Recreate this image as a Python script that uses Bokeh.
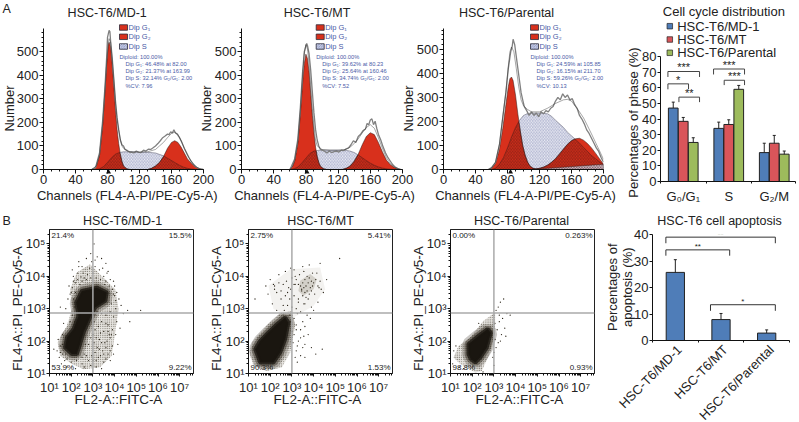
import math
import numpy as np
from bokeh.embed import file_html
from bokeh.layouts import column, row
from bokeh.models import (ColumnDataSource, FixedTicker, Label, Range1d, Span, TeeHead, Whisker)
from bokeh.plotting import figure
from bokeh.resources import INLINE

FONT = "Liberation Sans"
RED = "#d8301c"
BLUE_TEXT = "#4a5aa6"

# ------------- Panel A: histograms (channel, count) -------------
a1_g1_x = [62, 66, 70, 74, 77, 79, 81, 82, 84, 86, 88, 90, 92, 94, 96, 98, 100, 104, 108]
a1_g1_y = [0, 15, 60, 190, 340, 450, 530, 540, 520, 440, 350, 250, 170, 110, 65, 35, 15, 3, 0]
a1_g2_x = [130, 135, 140, 145, 150, 155, 160, 164, 168, 172, 176, 180, 185, 190, 195, 200]
a1_g2_y = [0, 5, 15, 30, 55, 90, 115, 122, 115, 95, 70, 45, 25, 10, 3, 0]
a1_s_x = [65, 70, 75, 80, 85, 90, 95, 100, 110, 120, 130, 140, 150, 155, 160, 165, 170, 175, 180, 185, 190]
a1_s_y = [0, 3, 12, 30, 50, 65, 72, 75, 75, 74, 73, 70, 58, 48, 38, 28, 18, 10, 5, 2, 0]
a1_raw_x = [60, 65, 70, 74, 77, 79, 80, 81, 82, 83, 84, 86, 88, 90, 92, 94, 96, 98, 100, 102, 105, 108, 110, 113, 116, 119, 122, 125, 128, 131, 134, 137, 140, 143, 146, 149, 152, 155, 157, 159, 161, 163, 165, 167, 170, 173, 176, 179, 182, 185, 188, 192, 196, 200]
a1_raw_y = [0, 8, 70, 210, 360, 480, 560, 575, 590, 585, 540, 470, 380, 290, 220, 170, 125, 105, 100, 85, 80, 72, 74, 70, 78, 73, 72, 82, 78, 86, 85, 92, 100, 110, 122, 135, 142, 150, 148, 160, 155, 168, 155, 150, 135, 115, 90, 70, 50, 33, 20, 8, 2, 0]
a1_fit_x = [60, 66, 70, 74, 77, 79, 81, 82, 84, 86, 88, 90, 92, 94, 96, 98, 100, 105, 110, 120, 130, 140, 145, 150, 155, 160, 164, 168, 172, 176, 180, 185, 190, 195, 200]
a1_fit_y = [0, 15, 62, 195, 345, 455, 540, 555, 535, 460, 375, 280, 210, 165, 130, 100, 90, 78, 75, 74, 75, 85, 100, 115, 135, 153, 158, 150, 122, 90, 60, 32, 13, 3, 0]

a2_g1_x = [60, 63, 66, 70, 73, 76, 78, 80, 82, 84, 86, 88, 90, 92, 94, 96, 98, 102, 106]
a2_g1_y = [0, 10, 35, 110, 230, 370, 450, 489, 470, 410, 320, 230, 155, 95, 55, 30, 14, 3, 0]
a2_g2_x = [125, 130, 135, 140, 145, 150, 155, 160, 165, 170, 175, 180, 185, 190, 195, 198]
a2_g2_y = [0, 5, 15, 35, 65, 105, 140, 156, 148, 115, 75, 40, 20, 8, 2, 0]
a2_s_x = [60, 65, 70, 75, 80, 85, 90, 95, 100, 110, 120, 130, 135, 140, 145, 150, 155, 160, 165, 170, 175, 180, 185, 190]
a2_s_y = [0, 3, 10, 28, 48, 68, 78, 81, 82, 82, 82, 81, 78, 72, 62, 50, 38, 27, 18, 11, 6, 3, 1, 0]
a2_raw_x = [60, 62, 66, 70, 73, 76, 78, 80, 81, 82, 84, 86, 88, 90, 92, 94, 96, 98, 100, 103, 106, 109, 112, 115, 118, 121, 124, 127, 130, 133, 136, 139, 142, 145, 148, 151, 154, 156, 158, 160, 162, 164, 166, 168, 170, 173, 176, 179, 182, 185, 188, 191, 195, 198]
a2_raw_y = [0, 14, 45, 130, 260, 420, 500, 525, 535, 525, 490, 420, 330, 240, 170, 125, 100, 85, 82, 78, 70, 78, 72, 76, 78, 74, 82, 80, 88, 92, 105, 122, 115, 140, 150, 165, 172, 195, 190, 210, 215, 190, 205, 175, 150, 125, 95, 70, 50, 35, 20, 10, 3, 0]
a2_fit_x = [60, 63, 66, 70, 73, 76, 78, 80, 82, 84, 86, 88, 90, 92, 94, 96, 100, 110, 120, 130, 135, 140, 145, 150, 155, 160, 165, 170, 175, 180, 185, 190, 195, 198]
a2_fit_y = [0, 12, 38, 120, 245, 400, 490, 530, 510, 445, 355, 260, 185, 125, 100, 95, 85, 82, 82, 85, 95, 110, 130, 155, 178, 190, 175, 135, 90, 50, 25, 10, 3, 0]

a3_g1_x = [56, 60, 65, 70, 74, 78, 81, 83, 85, 87, 90, 93, 96, 99, 102, 105, 108, 112, 116, 120]
a3_g1_y = [0, 5, 25, 85, 170, 270, 345, 378, 385, 370, 310, 230, 160, 100, 60, 32, 15, 5, 1, 0]
a3_g2_x = [110, 115, 120, 125, 130, 135, 140, 145, 150, 155, 160, 165, 170, 175, 180, 185, 190, 195, 200]
a3_g2_y = [0, 2, 5, 10, 18, 30, 45, 65, 85, 105, 120, 128, 130, 122, 108, 90, 68, 45, 22]
a3_s_x = [60, 65, 70, 75, 80, 85, 90, 95, 100, 105, 110, 120, 130, 135, 140, 145, 150, 155, 160, 165, 170, 175, 180, 185, 190, 195, 200]
a3_s_y = [0, 5, 22, 50, 90, 135, 175, 205, 225, 233, 235, 235, 232, 222, 205, 190, 175, 155, 140, 125, 110, 92, 75, 58, 45, 32, 20]
a3_raw_x = [56, 60, 65, 70, 74, 78, 81, 84, 86, 87, 89, 91, 93, 95, 97, 99, 101, 104, 107, 110, 113, 116, 119, 122, 125, 128, 131, 134, 137, 140, 143, 146, 149, 152, 155, 158, 161, 164, 167, 170, 173, 176, 179, 182, 185, 188, 191, 194, 197, 200]
a3_raw_y = [0, 8, 30, 105, 215, 320, 420, 490, 515, 542, 520, 470, 420, 370, 320, 290, 262, 245, 225, 240, 225, 235, 220, 240, 232, 245, 240, 255, 262, 285, 300, 290, 315, 300, 310, 290, 295, 270, 255, 225, 210, 190, 165, 150, 130, 110, 90, 75, 50, 30]
a3_fit_x = [56, 60, 65, 70, 74, 78, 81, 83, 85, 88, 91, 94, 97, 100, 105, 110, 120, 130, 140, 150, 155, 160, 165, 170, 175, 180, 185, 190, 195, 200]
a3_fit_y = [0, 6, 30, 107, 215, 325, 430, 490, 510, 490, 420, 345, 290, 265, 250, 240, 240, 255, 275, 290, 292, 285, 262, 240, 215, 182, 148, 113, 78, 42]

a1_stats = ["Diploid: 100.00%", "Dip G\u2081: 46.48% at 82.00", "Dip G\u2082: 21.37% at 163.99", "Dip S: 32.14% G\u2082/G\u2081: 2.00", "%CV: 7.96"]
a2_stats = ["Diploid: 100.00%", "Dip G\u2081: 39.62% at 80.23", "Dip G\u2082: 25.64% at 160.46", "Dip S: 34.74% G\u2082/G\u2081: 2.00", "%CV: 7.52"]
a3_stats = ["Diploid: 100.00%", "Dip G\u2081: 24.59% at 105.85", "Dip G\u2082: 16.15% at 211.70", "Dip S: 59.26% G\u2082/G\u2081: 2.00", "%CV: 10.13"]

# ------------- Cell cycle bars -------------
phases = ["G\u2080/G\u2081", "S", "G\u2082/M"]
md1_phase = [47, 34, 18.5]
md1_low = [43, 30, 12.5]
md1_high = [50.8, 38, 24.5]
mt_phase = [38.5, 36.5, 24.5]
mt_low = [35.5, 33, 20]
mt_high = [41, 39.5, 29.5]
par_phase = [25, 59, 17.5]
par_low = [21.5, 56.5, 15.5]
par_high = [28, 61.5, 19.5]

# ------------- Panel B: flow cytometry, log10 units -------------
b1_core_x = [2.03, 1.72, 1.80, 2.11, 2.34, 2.23, 2.49, 3.18, 3.64, 3.57, 3.10, 2.87, 2.57, 2.41, 2.26]
b1_core_y = [1.60, 1.80, 2.11, 2.37, 2.78, 3.19, 3.55, 3.65, 3.50, 3.24, 3.04, 2.73, 2.27, 1.91, 1.60]
b1_halo_x = [2.03, 1.49, 1.37, 1.80, 2.03, 1.95, 2.26, 2.87, 3.41, 4.03, 4.18, 4.03, 3.87, 3.33, 2.57]
b1_halo_y = [1.29, 1.55, 1.96, 2.47, 2.99, 3.60, 4.12, 4.37, 4.01, 3.60, 2.99, 2.27, 1.55, 1.19, 1.13]
b1_dots_x = [2.3, 2.5, 2.7, 2.9, 3.2, 3.4, 3.6, 3.1, 3.3, 3.7, 2.6, 2.1, 1.9, 2.0, 1.85, 2.2, 2.4, 2.75, 3.0, 3.5, 3.8, 4.0, 4.1, 4.2, 3.9, 4.3, 4.05, 3.8, 3.95, 4.1, 4.4, 4.6, 5.2, 3.6, 3.4, 3.7, 3.5, 3.9, 4.05, 3.8, 3.3, 3.55, 3.9, 4.15, 3.2, 3.45, 3.7, 3.95, 3.25, 3.0, 3.5, 3.8, 3.15, 3.4, 2.9, 1.6, 1.4, 1.5, 1.35, 1.45, 1.7, 1.55, 1.8, 2.2, 2.5, 2.6, 2.8, 3.0, 1.2, 1.65, 1.75, 1.5, 2.05, 3.05, 4.7, 2.35, 2.95, 3.55, 3.75, 4.25,
             2.1, 2.3, 2.5, 2.7, 2.9, 3.15, 3.35, 3.6, 3.75, 3.95, 4.05, 3.85, 4.0, 2.05, 1.95, 2.1, 2.2, 2.15, 2.3, 2.05, 1.95, 2.15, 3.2, 3.4, 3.05, 3.25, 3.1, 3.35, 3.6, 3.7, 3.15, 3.05, 3.4, 3.65, 3.85, 3.3, 3.6, 3.8, 3.1, 3.35, 3.6, 2.95, 3.15, 2.8, 2.6, 1.8, 2.0, 2.25, 1.6, 1.75, 2.5, 1.5, 1.6, 2.7, 2.65, 2.9, 3.5, 2.35, 2.55, 2.85, 3.1, 3.45, 3.65, 2.45, 3.95]
b1_dots_y = [4.1, 4.3, 4.55, 4.7, 4.6, 4.55, 4.4, 4.3, 4.2, 4.15, 3.95, 3.85, 3.7, 3.5, 3.3, 3.8, 3.75, 4.05, 4.1, 4.0, 3.9, 3.7, 3.5, 3.3, 3.6, 3.1, 3.0, 2.9, 2.75, 2.6, 2.85, 2.95, 2.95, 2.8, 2.6, 2.5, 2.3, 2.35, 2.2, 2.1, 2.05, 1.95, 1.85, 1.9, 1.8, 1.7, 1.6, 1.6, 1.5, 1.4, 1.35, 1.4, 1.2, 1.15, 1.25, 2.2, 2.05, 1.85, 1.7, 1.5, 1.4, 1.3, 1.2, 1.15, 1.3, 1.6, 1.9, 2.2, 1.75, 2.55, 3.0, 3.05, 4.2, 5.0, 2.6, 4.45, 4.45, 3.75, 2.2, 2.4,
             4.0, 3.9, 3.85, 3.9, 3.95, 3.95, 3.9, 3.85, 3.7, 3.45, 3.25, 3.15, 3.4, 3.65, 3.45, 3.3, 3.5, 3.05, 2.95, 2.8, 2.6, 2.6, 2.9, 2.85, 2.6, 2.45, 2.35, 2.25, 2.55, 2.3, 2.1, 1.95, 1.95, 2.0, 2.2, 1.75, 1.8, 1.7, 1.65, 1.55, 1.45, 1.55, 1.4, 1.4, 1.2, 1.45, 1.35, 1.4, 1.6, 1.6, 1.5, 1.65, 1.9, 1.55, 1.9, 2.1, 1.6, 4.3, 4.1, 4.25, 4.5, 4.25, 4.1, 3.98, 3.85]

b2_core_x = [1.54, 1.31, 1.54, 1.92, 2.31, 2.69, 2.84, 2.69, 2.46, 2.15]
b2_core_y = [1.34, 1.75, 2.01, 2.27, 2.52, 2.73, 2.57, 2.06, 1.65, 1.34]
b2_halo_x = [1.05, 1.15, 1.84, 2.46, 3.0, 3.15, 2.92, 2.54, 1.84, 1.23]
b2_halo_y = [1.60, 1.96, 2.47, 2.86, 2.93, 2.47, 1.65, 1.19, 1.08, 1.24]
b2_upper_x = [3.38, 3.84, 4.15, 4.0, 3.53, 3.30]
b2_upper_y = [3.86, 4.07, 3.91, 3.60, 3.40, 3.55]
b2_sparse_x = [1.92, 2.92, 4.30, 4.53, 4.0, 3.07, 2.15]
b2_sparse_y = [3.71, 4.22, 4.27, 3.60, 3.09, 2.73, 2.99]
b2_dots_x = [2.2, 2.4, 2.7, 2.95, 3.1, 3.5, 3.8, 4.3, 4.6, 5.2, 4.45, 4.2, 3.9, 3.6, 3.3, 2.8, 2.5, 2.1, 1.9, 1.3, 2.3, 2.6, 3.2, 3.4, 3.7, 4.0, 3.5, 3.85, 3.2, 3.4, 3.6, 3.75, 3.1, 3.3, 3.6, 3.9, 3.2, 3.4, 3.25, 3.6, 4.1, 4.4, 2.0, 2.2, 1.8, 2.75, 2.95, 3.15, 3.45, 4.25,
             3.4, 3.5, 3.6, 3.7, 3.8, 3.9, 4.0, 4.1, 3.45, 3.55, 3.65, 3.75, 3.85, 3.95, 3.6, 3.7, 3.8, 3.9, 3.5, 3.65, 3.3, 3.2, 3.1, 3.0, 2.85, 2.6, 2.4, 2.15, 2.3, 2.5, 2.7, 2.9, 3.1, 3.3, 3.55, 3.75, 4.05, 4.2, 4.35, 4.3, 3.15, 3.35, 3.55, 3.95, 4.15, 2.8, 3.0, 2.65, 2.9, 3.1, 3.25, 2.95, 3.2, 3.0, 3.4, 3.55, 3.05, 3.25, 3.15, 3.5]
b2_dots_y = [3.7, 4.05, 4.15, 4.25, 4.2, 4.3, 4.35, 4.4, 3.9, 4.55, 3.5, 3.2, 3.05, 3.15, 3.3, 3.5, 3.3, 3.15, 3.45, 3.3, 2.95, 3.1, 3.0, 2.9, 2.8, 2.95, 2.6, 2.7, 2.5, 2.35, 2.45, 2.2, 2.2, 2.0, 1.9, 1.8, 1.7, 1.55, 1.35, 1.5, 1.6, 1.75, 3.9, 3.6, 3.7, 3.85, 3.6, 3.75, 3.6, 3.65,
             3.7, 3.8, 3.9, 4.0, 3.95, 3.85, 3.8, 3.9, 3.55, 3.65, 3.7, 3.8, 3.65, 3.7, 3.5, 3.55, 3.45, 3.55, 3.4, 3.35, 3.75, 3.9, 3.75, 3.95, 3.65, 3.75, 3.8, 3.75, 3.5, 3.55, 3.4, 3.3, 3.4, 3.2, 3.15, 3.3, 3.45, 3.7, 3.6, 3.85, 4.0, 4.05, 4.15, 4.1, 4.1, 3.1, 3.05, 2.95, 2.8, 2.7, 2.85, 2.6, 2.35, 2.3, 2.1, 2.15, 1.95, 1.85, 1.5, 1.8]

b3_core_x = [1.83, 1.83, 2.29, 2.71, 2.86, 2.67, 2.37, 2.14, 1.94]
b3_core_y = [1.60, 1.91, 2.16, 2.37, 2.26, 1.80, 1.49, 1.34, 1.44]
b3_halo_x = [1.14, 1.37, 1.91, 2.52, 3.06, 3.06, 2.90, 2.44, 2.14, 1.45]
b3_halo_y = [1.49, 1.85, 2.11, 2.63, 2.88, 2.47, 1.75, 1.08, 1.03, 1.29]
b3_dots_x = [3.1, 3.2, 3.3, 3.45, 3.6, 3.75, 3.25, 3.4, 3.05, 3.15, 3.35, 3.55, 3.05, 3.2, 3.1, 3.0, 2.95, 3.3, 3.5, 3.25, 1.15, 1.25, 1.4, 1.1, 1.6, 2.3, 2.5, 3.0]
b3_dots_y = [2.95, 3.05, 3.2, 3.3, 2.85, 2.8, 2.8, 2.7, 2.55, 2.35, 2.2, 2.15, 2.05, 1.95, 1.8, 1.65, 1.5, 2.0, 2.4, 2.6, 1.7, 1.85, 1.2, 1.3, 1.15, 2.55, 1.05, 1.25]

apoptosis_names = ["HSC-T6/MD-1", "HSC-T6/MT", "HSC-T6/Parental"]
apoptosis = [25.7, 7.9, 2.8]
apoptosis_low = [20.7, 5, 1.5]
apoptosis_high = [30.5, 10.2, 4]

SUP = {1: "\u00b9", 2: "\u00b2", 3: "\u00b3", 4: "\u2074", 5: "\u2075", 6: "\u2076", 7: "\u2077"}

# Transparent page-sized layer for all free text: its data units are window pixels.
layer = figure(width=799, height=422, x_range=Range1d(0, 799), y_range=Range1d(422, 0), output_backend="svg",
               toolbar_location=None, min_border=0, x_axis_location=None, y_axis_location=None,
               background_fill_color=None, border_fill_color=None, outline_line_color=None,
               margin=(-422, 0, 0, 0))
layer.grid.visible = False


def put(px, py, text, size=13, color="#222222", align="center", angle=0, style="normal"):
    layer.add_layout(Label(x=px, y=py, text=text, text_font=FONT, text_font_size=f"{size}px",
                           text_color=color, text_align=align, text_baseline="middle",
                           angle=angle, text_font_style=style))


def base_fig(w, h, cx, ctop, left, right, top, bottom, x_range, y_range, **kw):
    p = figure(width=w, height=h, x_range=x_range, y_range=y_range, output_backend="svg",
               toolbar_location=None, min_border_left=left - cx, min_border_right=cx + w - right,
               min_border_top=top - ctop, min_border_bottom=ctop + h - bottom,
               background_fill_color=None, border_fill_color=None, outline_line_color=None,
               margin=0, **kw)
    p.grid.visible = False
    p.axis.axis_line_color = "#111111"
    p.axis.major_tick_line_color = "#111111"
    p.axis.minor_tick_line_color = "#111111"
    p.axis.major_label_text_font = FONT
    p.axis.major_label_text_font_size = "13px"
    p.axis.major_label_text_color = "#222222"
    p.axis.major_tick_in = 0
    p.axis.minor_tick_in = 0
    p.axis.major_tick_out = 4
    p.axis.minor_tick_out = 2
    p.axis.major_label_standoff = 1
    return p


def wrap(p, neg=0):
    # A column of its own keeps the row from aligning this frame with its neighbours.
    return column(p, margin=(0, 0, 0, -neg), spacing=0)


def overlap(xa, ya, xb, yb):
    lo, hi = max(xa[0], xb[0]), min(xa[-1], xb[-1])
    g = np.arange(lo, hi + 1)
    m = np.minimum(np.interp(g, xa, ya), np.interp(g, xb, yb))
    return list(g) + [hi, lo], list(m) + [0, 0]


def hist_panel(w, cx, left, right, y_top, title, title_px, xlabel_px, number_px,
               g1x, g1y, g2x, g2y, sx, sy, rx, ry, fx, fy, stats, txt_px, tri):
    top, bottom = 28, 169
    p = base_fig(w, 206, cx, 0, left, right, top, bottom, Range1d(0, 200), Range1d(0, y_top))
    p.xaxis.ticker = FixedTicker(ticks=[0, 40, 80, 120, 160, 200], minor_ticks=list(range(0, 201, 10)))
    p.yaxis.ticker = FixedTicker(ticks=[0, 100, 200, 300, 400, 500], minor_ticks=list(range(0, 591, 20)))
    p.patch(sx + [sx[-1]], sy + [0], fill_color="#f6f6fa", line_color="#555566", line_width=0.5,
            hatch_pattern="left_diagonal_line", hatch_color="#8088b4", hatch_scale=3.2, hatch_weight=0.6)
    p.patch(g1x, g1y, fill_color=RED, line_color="#2a1a18", line_width=0.5)
    p.patch(g2x, g2y, fill_color=RED, line_color="#2a1a18", line_width=0.5)
    for gx, gy in ((g1x, g1y), (g2x, g2y)):
        ox, oy = overlap(gx, gy, sx, sy)
        p.patch(ox, oy, fill_alpha=0, line_color="#2a1a18", line_width=0.4,
                hatch_pattern="left_diagonal_line", hatch_color="#6a1810", hatch_scale=3.2, hatch_weight=0.6)
    p.line(rx, ry, line_color="#808080", line_width=1.3)
    p.line(fx, fy, line_color="#222222", line_width=0.4)
    put(title_px, 12.5, title, size=12.5)
    put(xlabel_px, 195, "Channels (FL4-A-PI/PE-Cy5-A)")
    put(number_px, 108, "Number", angle=math.pi / 2)
    layer.scatter([tri], [171.5], marker="triangle", size=5, fill_color="#111111", line_color=None)
    x0 = txt_px + 4
    for row_y, lab, col, hatch in ((27, "Dip G\u2081", RED, None), (36.3, "Dip G\u2082", RED, None), (46, "Dip S", "#ffffff", "left_diagonal_line")):
        layer.rect([x0], [row_y], width=8, height=5.5, fill_color=col, line_color="#2a2a3a", line_width=0.8,
                   hatch_pattern=hatch, hatch_color="#4a5aa6", hatch_scale=2.5, hatch_weight=0.6)
        put(x0 + 5, row_y, lab, size=7.5, color=BLUE_TEXT, align="left")
    for i, (txt, py) in enumerate(zip(stats, [56, 63.3, 70.3, 77.3, 85.3])):
        put(txt_px + (0 if i == 0 else 6), py, txt, size=5.7, color=BLUE_TEXT, align="left")
    return p


a1 = hist_panel(218, 0, 43, 203, 598, "HSC-T6/MD-1", 106.7, 126.7, 8.5, a1_g1_x, a1_g1_y, a1_g2_x, a1_g2_y,
                a1_s_x, a1_s_y, a1_raw_x, a1_raw_y, a1_fit_x, a1_fit_y, a1_stats, 119, 108)
a2 = hist_panel(222, 198, 241, 402, 598, "HSC-T6/MT", 316.5, 324, 205.5, a2_g1_x, a2_g1_y, a2_g2_x, a2_g2_y,
                a2_s_x, a2_s_y, a2_raw_x, a2_raw_y, a2_fit_x, a2_fit_y, a2_stats, 315.7, 306.5)
a3 = hist_panel(222, 400, 443, 603, 587, "HSC-T6/Parental", 506, 525, 408, a3_g1_x, a3_g1_y, a3_g2_x, a3_g2_y,
                a3_s_x, a3_s_y, a3_raw_x, a3_raw_y, a3_fit_x, a3_fit_y, a3_stats, 530, 510)

# ------------- Cell-cycle bar chart -------------
a4 = base_fig(177, 206, 622, 0, 660, 795, 56, 184, Range1d(0, 2.967), Range1d(0, 80))
a4.xaxis.ticker = FixedTicker(ticks=[0.5, 1.5, 2.5], minor_ticks=[0, 1, 2, 2.967])
a4.xaxis.major_label_overrides = {0.5: phases[0], 1.5: phases[1], 2.5: phases[2]}
a4.xaxis.major_tick_out = 0
a4.xaxis.major_label_standoff = 5
a4.yaxis.ticker = FixedTicker(ticks=list(range(0, 81, 10)), minor_ticks=[])
a4.yaxis.major_tick_out = 3
group_x = [0.5, 1.5, 2.5]
for k, (off, vals, lo, hi, col, name) in enumerate(((-0.22, md1_phase, md1_low, md1_high, "#4f7db8", "HSC-T6/MD-1"),
                                                    (0, mt_phase, mt_low, mt_high, "#d9555a", "HSC-T6/MT"),
                                                    (0.22, par_phase, par_low, par_high, "#9dbb5c", "HSC-T6/Parental"))):
    src = ColumnDataSource(dict(x=[g + off for g in group_x], top=vals, lo=lo, hi=hi))
    a4.vbar(x="x", top="top", bottom=0, width=0.213, source=src, fill_color=col, line_color="#222222", line_width=1)
    a4.add_layout(Whisker(source=src, base="x", lower="lo", upper="hi", line_color="#222222", line_width=1,
                          upper_head=TeeHead(size=3, line_color="#222222"), lower_head=TeeHead(size=3, line_color="#222222")))
    yy = 25.7 + k * 13.3
    layer.rect([669.3], [yy], width=5.5, height=5.5, fill_color=col, line_color="#222222", line_width=0.7)
    put(676.7, yy, name, align="left")
bx_l = [0.163, 0.163, 0.405, 1.166, 1.40]
bx_r = [0.858, 0.616, 0.858, 1.847, 1.847]
by_t = [70.4, 62.5, 54, 72, 64.8]
by_l = [66.9, 59, 50.8, 68.5, 61.7]
bs = ["***", "*", "**", "***", "***"]
for l, r_, t, d, s in zip(bx_l, bx_r, by_t, by_l, bs):
    a4.line([l, l, r_, r_], [d, t, t, d], line_color="#444444", line_width=1)
    a4.add_layout(Label(x=(l + r_) / 2, y=t - 1.2, text=s, text_font=FONT, text_font_size="11px",
                        text_align="center", text_baseline="bottom", text_color="#222222"))
put(723.4, 11, "Cell cycle distribution")
put(633.3, 122, "Percentages of phase (%)", angle=math.pi / 2)


def flow_panel(w, cx, left, right, title, title_px, core_x, core_y, halo_x, halo_y, dx, dy, quad, extra=None):
    top, bottom = 229, 373
    xm, ym = 1 + 144 / 21.7, 1 + 144 / 32.4
    p = base_fig(w, 216, cx, 206, left, right, top, bottom, Range1d(1, xm), Range1d(1, ym))
    p.outline_line_color = "#222222"
    decade_minor = [k + math.log10(m) for k in range(1, 8) for m in range(2, 10)]
    p.xaxis.ticker = FixedTicker(ticks=list(range(1, 8)), minor_ticks=decade_minor)
    p.yaxis.ticker = FixedTicker(ticks=list(range(1, 6)), minor_ticks=decade_minor)
    p.xaxis.major_label_overrides = {k: "10" + SUP[k] for k in range(1, 8)}
    p.yaxis.major_label_overrides = {k: "10" + SUP[k] for k in range(1, 6)}
    p.xaxis.major_label_standoff = 3
    p.axis.major_tick_out = 3
    p.axis.minor_tick_out = 2
    if extra:
        for ex, ey, alpha in extra:
            p.patch(ex, ey, fill_color="#8a8070", fill_alpha=alpha, line_color=None)
    p.patch(halo_x, halo_y, fill_alpha=0.2, fill_color="#8a8070", line_color=None,
            hatch_pattern="dot", hatch_color="#5a5448", hatch_scale=2.2, hatch_weight=0.4)
    # Soft rim round the dense centre, dark core on top.
    p.patch(core_x, core_y, fill_alpha=0, line_color="#2a2418", line_alpha=0.25, line_width=13)
    p.patch(core_x, core_y, fill_alpha=0, line_color="#2a2418", line_alpha=0.45, line_width=8)
    p.patch(core_x, core_y, fill_color="#1a1610", line_color="#1a1610", line_alpha=0.8, line_width=4)
    p.scatter(dx, dy, size=1.3, fill_color="#2a2418", line_color=None)
    p.add_layout(Span(location=3, dimension="height", line_color="#aaaaaa", line_width=1.5))
    p.add_layout(Span(location=2.87, dimension="width", line_color="#aaaaaa", line_width=1.5))
    put(left + 2, 235, quad[0], size=8, align="left")
    put(right - 2, 235, quad[1], size=8, align="right")
    put(left + 2, 367, quad[2], size=8, align="left")
    put(right - 2, 367, quad[3], size=8, align="right")
    put(title_px, 220.5, title, size=12.5)
    put((left + right) / 2 - 3, 399, "FL2-A::FITC-A", size=13.5)
    put(left - 32, 308, "FL4-A::PI_PE-Cy5-A", size=13.5, angle=math.pi / 2)
    return p


b1 = flow_panel(205, 0, 49, 193, "HSC-T6/MD-1", 122, b1_core_x, b1_core_y, b1_halo_x, b1_halo_y, b1_dots_x, b1_dots_y,
                ["21.4%", "15.5%", "53.9%", "9.22%"])
b2 = flow_panel(200, 205, 248, 392, "HSC-T6/MT", 320, b2_core_x, b2_core_y, b2_halo_x, b2_halo_y, b2_dots_x, b2_dots_y,
                ["2.75%", "5.41%", "90.3%", "1.53%"],
                extra=[(b2_sparse_x, b2_sparse_y, 0.1), (b2_upper_x, b2_upper_y, 0.3)])
b3 = flow_panel(195, 405, 450, 594, "HSC-T6/Parental", 521, b3_core_x, b3_core_y, b3_halo_x, b3_halo_y, b3_dots_x, b3_dots_y,
                ["0.00%", "0.263%", "98.8%", "0.93%"])

# ------------- Apoptosis bars -------------
b4 = base_fig(199, 216, 600, 206, 652, 789, 234, 340, Range1d(0, 3), Range1d(0, 40))
b4.xaxis.ticker = FixedTicker(ticks=[], minor_ticks=[0, 1, 2, 3])
b4.yaxis.ticker = FixedTicker(ticks=[0, 10, 20, 30, 40], minor_ticks=[])
b4.yaxis.major_tick_out = 3
src5 = ColumnDataSource(dict(x=[0.5, 1.5, 2.5], top=apoptosis, lo=apoptosis_low, hi=apoptosis_high))
b4.vbar(x="x", top="top", bottom=0, width=0.4, source=src5, fill_color="#4f7db8", line_color="#222222", line_width=1)
b4.add_layout(Whisker(source=src5, base="x", lower="lo", upper="hi", line_color="#222222", line_width=1,
                      upper_head=TeeHead(size=3, line_color="#222222"), lower_head=TeeHead(size=3, line_color="#222222")))
for l, r_, t, d, s in zip([0.293, 0.293, 1.27], [2.69, 1.69, 2.69], [39, 34.2, 13.5], [36.7, 32, 11.2], ["**", "**", "*"]):
    b4.line([l, l, r_, r_], [d, t, t, d], line_color="#333333", line_width=1)
    b4.add_layout(Label(x=(l + r_) / 2, y=t - 0.6, text=s, text_font=FONT, text_font_size="8px",
                        text_align="center", text_baseline="bottom", text_color="#222222"))
for name, ex in zip(apoptosis_names, [679, 725, 771]):
    put(ex, 347, name, align="right", angle=math.pi / 4)
put(719, 220.5, "HSC-T6 cell apoptosis", size=12.5)
put(611.7, 286.7, "Percentages of", angle=math.pi / 2)
put(626.7, 286.7, "apoptosis (%)", angle=math.pi / 2)
put(2, 8, "A", size=12.5, align="left")
put(2, 220, "B", size=12.5, align="left")

page = column(row(wrap(a1), wrap(a2, 20), wrap(a3, 20), wrap(a4), spacing=0),
              row(wrap(b1), wrap(b2), wrap(b3), wrap(b4), spacing=0), layer, spacing=0)
open("out.html", "w").write(file_html(page, INLINE))
